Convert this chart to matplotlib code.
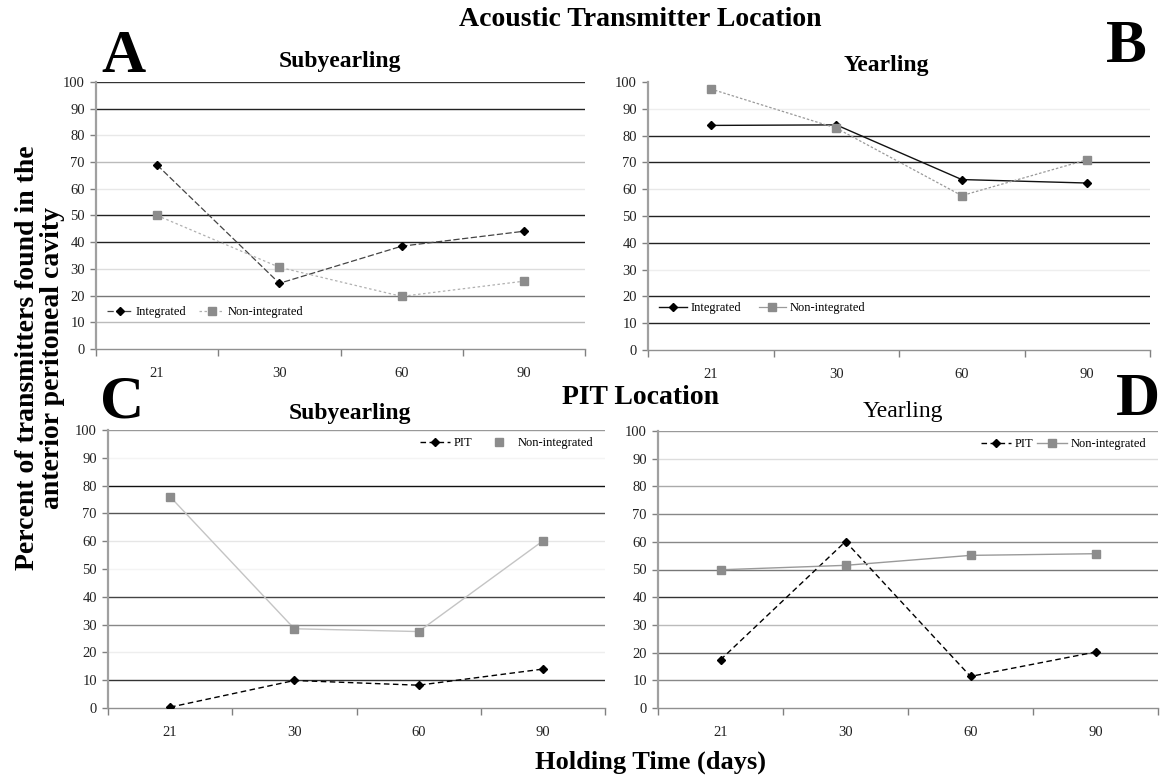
import matplotlib
matplotlib.use("Agg")
import matplotlib.pyplot as plt
from matplotlib.ticker import FixedLocator, NullFormatter, FixedFormatter

plt.rcParams['font.family'] = ['Liberation Serif', 'DejaVu Serif']

# ---------------- data ----------------
holding_days = ["21", "30", "60", "90"]
y_ticks = [0, 10, 20, 30, 40, 50, 60, 70, 80, 90, 100]

a_integrated = [68.9, 24.6, 38.5, 44.1]
a_nonintegrated = [50.0, 30.6, 19.7, 25.4]

b_integrated = [83.8, 84.0, 63.6, 62.3]
b_nonintegrated = [97.4, 82.8, 57.6, 71.0]

c_pit = [0.3, 9.9, 8.2, 14.0]
c_nonintegrated = [76.0, 28.5, 27.5, 60.1]

d_pit = [17.4, 60.1, 11.4, 20.2]
d_nonintegrated = [49.9, 51.5, 55.1, 55.7]

# ---------------- figure ----------------
W, H = 1163, 776
fig = plt.figure(figsize=(W / 100, H / 100), dpi=100)


def px_axes(left, right, top, bottom):
    return [left / W, 1 - bottom / H, (right - left) / W, (bottom - top) / H]


# gridline gray levels per panel (10..100), mimicking the scan
grid_shades = {
    "A": ['#bbbbbb', '#777777', '#dddddd', '#222222', '#222222', '#e8e8e8', '#bbbbbb', '#e8e8e8', '#222222', '#333333'],
    "B": ['#222222', '#222222', '#eeeeee', '#222222', '#222222', '#e8e8e8', '#222222', '#222222', '#eeeeee', None],
    "C": ['#333333', '#eeeeee', '#888888', '#444444', '#f4f4f4', '#e6e6e6', '#555555', '#111111', '#f4f4f4', '#999999'],
    "D": ['#888888', '#666666', '#bbbbbb', '#333333', '#777777', '#888888', '#888888', '#aaaaaa', '#dddddd', '#999999'],
}


def setup_axes(ax, shades):
    x = list(range(len(holding_days)))
    ax.set_xlim(-0.5, len(holding_days) - 0.5)
    ax.set_ylim(0, 100)
    for sp in ('top', 'right'):
        ax.spines[sp].set_visible(False)
    ax.spines['left'].set_color('#a0a0a0')
    ax.spines['left'].set_linewidth(1.6)
    ax.spines['bottom'].set_color('#909090')
    ax.spines['bottom'].set_linewidth(1.0)
    # category boundaries get tick marks, labels sit at centres
    ax.xaxis.set_major_locator(FixedLocator([i - 0.5 for i in range(len(holding_days) + 1)]))
    ax.xaxis.set_major_formatter(NullFormatter())
    ax.xaxis.set_minor_locator(FixedLocator(x))
    ax.xaxis.set_minor_formatter(FixedFormatter(holding_days))
    ax.tick_params(axis='x', which='major', direction='out', length=5, color='#808080', width=1)
    ax.tick_params(axis='x', which='minor', length=0, pad=13, labelsize=10.5, labelcolor='#222222')
    ax.set_yticks(y_ticks)
    ax.tick_params(axis='y', direction='out', length=4, color='#808080', width=1,
                   labelsize=10.5, pad=4, labelcolor='#222222')
    for val, col in zip(y_ticks[1:], shades):
        if col is not None:
            ax.axhline(val, color=col, lw=1.0, zorder=0.5)
    return x


# ---------------- Panel A ----------------
axA = fig.add_axes(px_axes(96, 585, 82, 349))
x = setup_axes(axA, grid_shades["A"])
axA.plot(x, a_integrated, color='#444444', lw=0.9, ls=(0, (5, 2)), marker='D', ms=4.5,
         mfc='black', mec='black', label='Integrated', zorder=3)
axA.plot(x, a_nonintegrated, color='#b0b0b0', lw=0.9, ls=(0, (2, 2)), marker='s', ms=6,
         mfc='#8c8c8c', mec='#8c8c8c', label='Non-integrated', zorder=3)
axA.legend(loc='center left', bbox_to_anchor=(0.0, 0.139), ncol=2, frameon=False,
           fontsize=9, handlelength=2.0, columnspacing=1.0, handletextpad=0.3)

# ---------------- Panel B ----------------
axB = fig.add_axes(px_axes(648, 1150, 82, 350))
x = setup_axes(axB, grid_shades["B"])
axB.plot(x, b_integrated, color='#111111', lw=1.0, ls='-', marker='D', ms=4.5,
         mfc='black', mec='black', label='Integrated', zorder=3)
axB.plot(x, b_nonintegrated, color='#9a9a9a', lw=0.9, ls=(0, (2, 1.5)), marker='s', ms=6,
         mfc='#8c8c8c', mec='#8c8c8c', label='Non-integrated', zorder=3)
leg = axB.legend(loc='center left', bbox_to_anchor=(0.0, 0.157), ncol=2, frameon=False,
                 fontsize=9, handlelength=2.2, columnspacing=1.4, handletextpad=0.3)
for line in leg.get_lines():
    line.set_linestyle('-')

# ---------------- Panel C ----------------
axC = fig.add_axes(px_axes(108, 605, 430, 708))
x = setup_axes(axC, grid_shades["C"])
axC.plot(x, c_pit, color='black', lw=1.0, ls=(0, (4, 2.5)), marker='D', ms=4.5,
         mfc='black', mec='black', label='PIT', zorder=3)
axC.plot(x, c_nonintegrated, color='#c4c4c4', lw=1.0, ls='-', marker='s', ms=6,
         mfc='#8c8c8c', mec='#8c8c8c', label='Non-integrated', zorder=3)
leg = axC.legend(loc='center right', bbox_to_anchor=(1.0, 0.953), ncol=2, frameon=False,
                 fontsize=9, handlelength=2.4, columnspacing=1.0, handletextpad=0.3)
leg.get_lines()[1].set_linestyle('None')

# ---------------- Panel D ----------------
axD = fig.add_axes(px_axes(658, 1158, 431, 708))
x = setup_axes(axD, grid_shades["D"])
axD.plot(x, d_pit, color='black', lw=1.0, ls=(0, (4, 2.5)), marker='D', ms=4.5,
         mfc='black', mec='black', label='PIT', zorder=3)
axD.plot(x, d_nonintegrated, color='#9a9a9a', lw=1.0, ls='-', marker='s', ms=6,
         mfc='#8c8c8c', mec='#8c8c8c', label='Non-integrated', zorder=3)
axD.legend(loc='center right', bbox_to_anchor=(1.0, 0.953), ncol=2, frameon=False,
           fontsize=9, handlelength=2.4, columnspacing=0.3, handletextpad=0.3)


# ---------------- texts ----------------
def ftext(xpx, ypx, s, **kw):
    fig.text(xpx / W, 1 - ypx / H, s, ha='center', va='center', **kw)


ftext(640, 19, "Acoustic Transmitter Location", fontsize=20, fontweight='bold')
ftext(641, 398, "PIT Location", fontsize=20, fontweight='bold')

ftext(123, 57, "A", fontsize=44, fontweight='bold')
ftext(1126, 47, "B", fontsize=44, fontweight='bold')
ftext(122, 402, "C", fontsize=44, fontweight='bold')
ftext(1138, 400, "D", fontsize=44, fontweight='bold')

ftext(340, 62, "Subyearling", fontsize=17, fontweight='bold')
ftext(886, 66, "Yearling", fontsize=17, fontweight='bold')
ftext(350, 414, "Subyearling", fontsize=17, fontweight='bold')
ftext(903, 412, "Yearling", fontsize=17)

ftext(650, 762, "Holding Time (days)", fontsize=19, fontweight='bold')
ftext(40, 358, "Percent of transmitters found in the\nanterior peritoneal cavity",
      fontsize=20, fontweight='bold', rotation=90, linespacing=0.95)

fig.savefig("out.png", dpi=100)
